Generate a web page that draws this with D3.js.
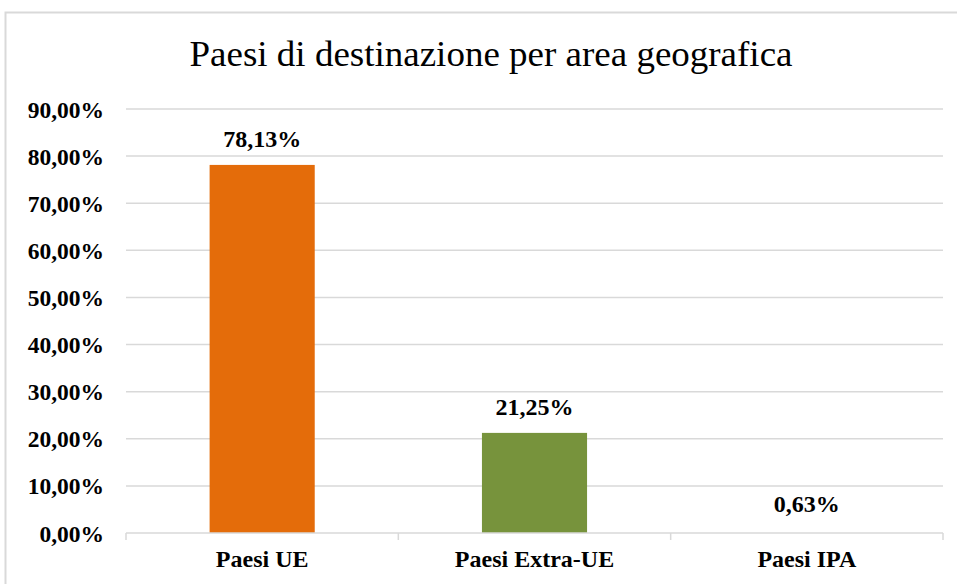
<!DOCTYPE html>
<html>
<head>
<meta charset="utf-8">
<script src="https://cdn.jsdelivr.net/npm/d3@7"></script>
<style>
    body { margin: 0; background: #fff; }
    svg { display: block; }
    svg text { font-family: "Liberation Serif", "Times New Roman", serif; fill: #000; }
</style>
</head>
<body>
<script>
// data
var categories = ["Paesi UE", "Paesi Extra-UE", "Paesi IPA"];
var values = [78.13, 21.25, 0.63];
var barColors = ["#E46C0A", "#77933C", "none"];
var yTicks = [0, 10, 20, 30, 40, 50, 60, 70, 80, 90];
var title = "Paesi di destinazione per area geografica";

(function(){
    var w = 957, h = 584;
    var left = 126, right = 943, top = 109, bottom = 533;

    var fmt = function(d) { return d.toFixed(2).replace(".", ",") + "%"; };

    var svg = d3.select("body").append("svg")
        .attr("width", w)
        .attr("height", h);

    // chart frame (runs off the right and bottom edge)
    svg.append("rect")
        .attr("x", 5.5).attr("y", 12.5)
        .attr("width", 1000).attr("height", 700)
        .attr("fill", "#fff")
        .attr("stroke", "#D9D9D9")
        .attr("stroke-width", 2);

    svg.append("text")
        .attr("x", 491)
        .attr("y", 66)
        .attr("text-anchor", "middle")
        .attr("font-size", 35)
        .attr("textLength", 603)
        .attr("lengthAdjust", "spacingAndGlyphs")
        .text(title);

    var x = d3.scaleBand()
        .domain(categories)
        .range([left, right])
        .paddingInner(0.614)
        .paddingOuter(0.307);

    var y = d3.scaleLinear()
        .domain([0, 90])
        .range([bottom, top]);

    // gridlines
    svg.append("g").selectAll("line")
        .data(yTicks.filter(function(d) { return d > 0; }))
        .enter().append("line")
        .attr("x1", left).attr("x2", right)
        .attr("y1", function(d) { return y(d); })
        .attr("y2", function(d) { return y(d); })
        .attr("stroke", "#D9D9D9")
        .attr("stroke-width", 1.5);

    // y labels
    var yAxis = svg.append("g")
        .attr("transform", "translate(" + (left - 22) + ",0)")
        .call(d3.axisLeft(y).tickValues(yTicks).tickFormat(fmt).tickSize(0).tickPadding(0));
    yAxis.select(".domain").remove();
    yAxis.selectAll("text")
        .attr("font-size", 23.5)
        .attr("font-weight", "bold")
        .attr("dy", "0.34em");

    // bars
    svg.append("g").selectAll("rect")
        .data(values)
        .enter().append("rect")
        .attr("x", function(d, i) { return x(categories[i]); })
        .attr("y", function(d) { return y(d); })
        .attr("width", x.bandwidth())
        .attr("height", function(d) { return y(0) - y(d); })
        .attr("fill", function(d, i) { return barColors[i]; });

    // value labels
    svg.append("g").selectAll("text")
        .data(values)
        .enter().append("text")
        .attr("x", function(d, i) { return x(categories[i]) + x.bandwidth() / 2; })
        .attr("y", function(d) { return y(d) - 18; })
        .attr("text-anchor", "middle")
        .attr("font-size", 24)
        .attr("font-weight", "bold")
        .text(fmt);

    // x axis line with boundary ticks
    var xb = d3.scaleLinear().domain([0, categories.length]).range([left, right]);
    svg.append("line")
        .attr("x1", left).attr("x2", right)
        .attr("y1", bottom).attr("y2", bottom)
        .attr("stroke", "#D9D9D9")
        .attr("stroke-width", 1.5);
    svg.append("g").selectAll("line")
        .data(d3.range(categories.length + 1))
        .enter().append("line")
        .attr("x1", function(d) { return xb(d); })
        .attr("x2", function(d) { return xb(d); })
        .attr("y1", bottom).attr("y2", bottom + 7)
        .attr("stroke", "#D9D9D9")
        .attr("stroke-width", 1.5);

    svg.append("g").selectAll("text")
        .data(categories)
        .enter().append("text")
        .attr("x", function(d) { return x(d) + x.bandwidth() / 2; })
        .attr("y", 567)
        .attr("text-anchor", "middle")
        .attr("font-size", 24)
        .attr("font-weight", "bold")
        .text(function(d) { return d; });
}());
</script>
</body>
</html>
